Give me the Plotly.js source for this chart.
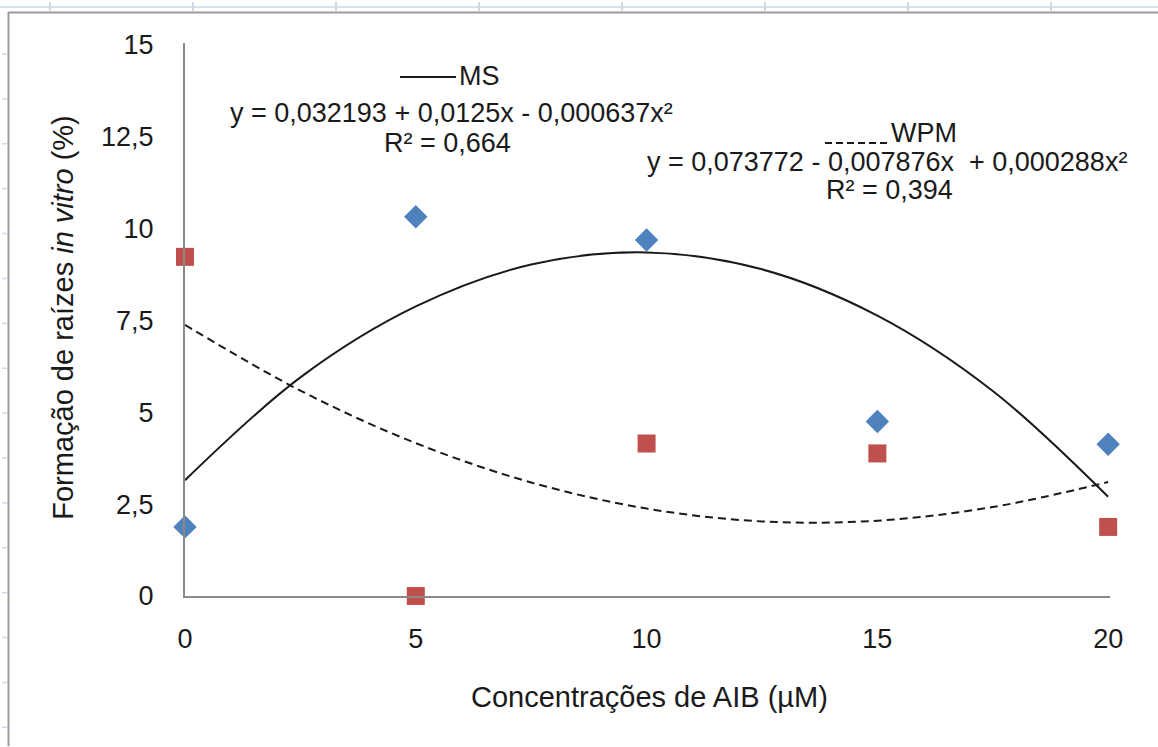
<!DOCTYPE html>
<html>
<head>
<meta charset="utf-8">
<script src="https://cdn.plot.ly/plotly-3.0.1.min.js"></script>
<style>html,body{margin:0;padding:0;background:#fff;}#chart{width:1158px;height:747px;}</style>
</head>
<body>
<div id="chart"></div>
<script>
// ---- data ----
const concentrations = [0, 5, 10, 15, 20];
const msValues  = [1.88, 10.32, 9.69, 4.75, 4.13];
const wpmValues = [9.23, 0.00, 4.15, 3.88, 1.88];
// trend curves
const trendX   = [0, 2.5, 5, 7.5, 10, 12.5, 15, 17.5, 20];
const msTrend  = [3.15, 5.95, 7.88, 9.02, 9.35, 8.89, 7.63, 5.58, 2.70];
const wpmTrend = [7.38, 5.59, 4.16, 3.09, 2.38, 2.03, 2.05, 2.42, 3.10];
const xTicks = [0, 5, 10, 15, 20];
const xTickLabels = ['0', '5', '10', '15', '20'];
const yTicks = [0, 2.5, 5, 7.5, 10, 12.5, 15];
const yTickLabels = ['0', '2,5', '5', '7,5', '10', '12,5', '15'];
const msLabel = 'MS';
const wpmLabel = 'WPM';
const msEquation = 'y = 0,032193 + 0,0125x - 0,000637x²';
const msR2 = 'R² = 0,664';
const wpmEquation = 'y = 0,073772 - 0,007876x  + 0,000288x²';
const wpmR2 = 'R² = 0,394';
const xTitle = 'Concentrações de AIB (µM)';
const yTitle = 'Formação de raízes <i>in vitro</i> (%)';

// ---- layout helpers (pixel -> paper) ----
const L = 185, T = 43, W = 925, H = 553.5;
const px = x => (x - L) / W;
const py = y => (T + H - y) / H;
const FONT = 'Liberation Sans, Arial, sans-serif';
const TXT = '#1a1a1a';

const traces = [
  {x: trendX, y: msTrend, mode: 'lines', line: {color: '#1a1a1a', width: 2, shape: 'spline', smoothing: 1}, hoverinfo: 'skip', showlegend: false},
  {x: trendX, y: wpmTrend, mode: 'lines', line: {color: '#1a1a1a', width: 2, dash: '8px,5px', shape: 'spline', smoothing: 1}, hoverinfo: 'skip', showlegend: false},
  {x: concentrations, y: msValues, name: msLabel, mode: 'markers', marker: {symbol: 'diamond', size: 18, color: '#4F81BD'}, cliponaxis: false, showlegend: false},
  {x: concentrations, y: wpmValues, name: wpmLabel, mode: 'markers', marker: {symbol: 'square', size: 18, color: '#C0504D'}, cliponaxis: false, showlegend: false}
];

function ann(text, x, y, extra) {
  return Object.assign({text: text, xref: 'paper', yref: 'paper', x: px(x), y: py(y), xanchor: 'center', yanchor: 'middle',
    showarrow: false, font: {family: FONT, size: 27, color: TXT}}, extra || {});
}

const annotations = [
  ann(msLabel, 457, 76, {xanchor: 'left'}),
  ann(msEquation, 451, 113),
  ann(msR2, 447, 143),
  ann(wpmLabel, 889, 133.5, {xanchor: 'left'}),
  ann(wpmEquation, 887, 162),
  ann(wpmR2, 889, 190.5),
  ann(xTitle, 649, 698, {font: {family: FONT, size: 29, color: TXT}}),
  ann(yTitle, 63.5, 317.5, {textangle: -90, font: {family: FONT, size: 29, color: TXT}})
];

const shapes = [
  {type: 'line', xref: 'paper', yref: 'paper', x0: px(400), x1: px(456), y0: py(77), y1: py(77), line: {color: '#1a1a1a', width: 2}},
  {type: 'line', xref: 'paper', yref: 'paper', x0: px(825), x1: px(887), y0: py(143), y1: py(143), line: {color: '#1a1a1a', width: 2, dash: '7px,4px'}},
  // worksheet frame
  {type: 'line', xref: 'paper', yref: 'paper', x0: px(0), x1: px(1158), y0: py(7), y1: py(7), line: {color: '#d9e1ee', width: 2}},
  {type: 'line', xref: 'paper', yref: 'paper', x0: px(8), x1: px(1158), y0: py(12.5), y1: py(12.5), line: {color: '#9c9c9c', width: 2}},
  {type: 'line', xref: 'paper', yref: 'paper', x0: px(8.5), x1: px(8.5), y0: py(12), y1: py(747), line: {color: '#9c9c9c', width: 2}}
];
[50, 193, 336, 479, 622, 765, 908, 1051].forEach(x => shapes.push({type: 'line', xref: 'paper', yref: 'paper', x0: px(x), x1: px(x), y0: py(2), y1: py(11), line: {color: '#cfd8e6', width: 2}}));
for (let k = 0; k < 16; k++) {
  const y = 54 + k * 44.93;
  shapes.push({type: 'line', xref: 'paper', yref: 'paper', x0: px(2), x1: px(7), y0: py(y), y1: py(y), line: {color: '#cfd8e6', width: 1.5}});
}

const layout = {
  width: 1158, height: 747,
  margin: {l: L, t: T, r: 1158 - L - W, b: 747 - T - H, pad: 0},
  paper_bgcolor: '#ffffff', plot_bgcolor: '#ffffff',
  showlegend: false,
  xaxis: {range: [0, 20.04], tickvals: xTicks, ticktext: xTickLabels, showgrid: false, zeroline: false,
    showline: true, linecolor: '#8a8a8a', linewidth: 2, ticks: 'outside', ticklen: 0, ticklabelstandoff: 18,
    tickfont: {family: FONT, size: 27, color: TXT}, fixedrange: true},
  yaxis: {range: [0, 15.05], tickvals: yTicks, ticktext: yTickLabels, showgrid: false, zeroline: false,
    showline: true, linecolor: '#8a8a8a', linewidth: 2, ticks: 'outside', ticklen: 0, ticklabelstandoff: 24,
    tickfont: {family: FONT, size: 27, color: TXT}, fixedrange: true},
  annotations: annotations,
  shapes: shapes
};

Plotly.newPlot('chart', traces, layout, {displayModeBar: false, staticPlot: true});
</script>
</body>
</html>
